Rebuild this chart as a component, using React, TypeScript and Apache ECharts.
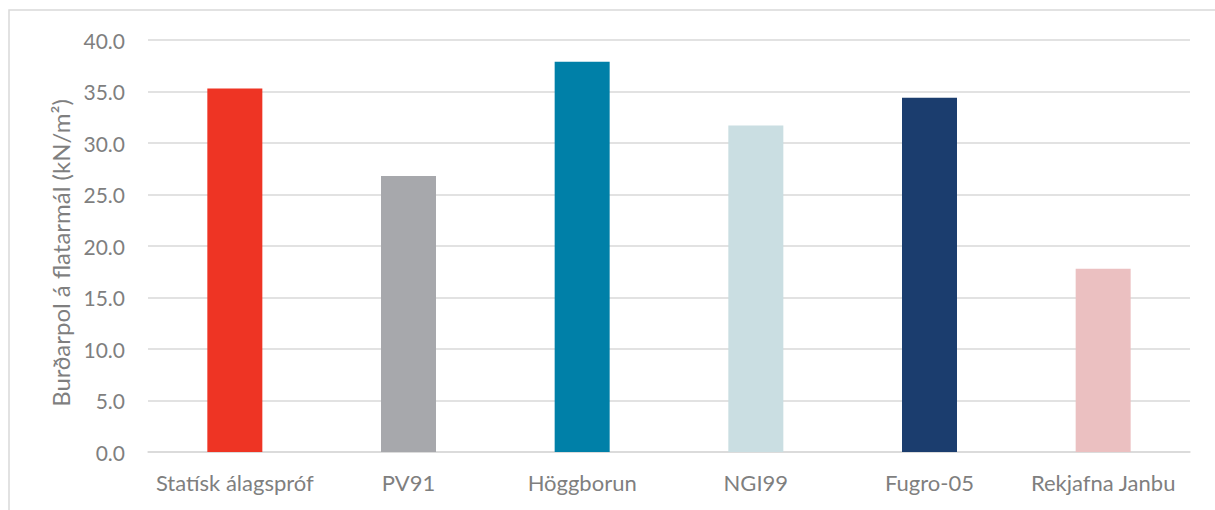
import React, { useEffect, useRef } from "react";
import * as echarts from "echarts";

const categories = ["Statísk álagspróf", "PV91", "Höggborun", "NGI99", "Fugro-05", "Rekjafna Janbu"];
const values = [35.3, 26.8, 37.9, 31.7, 34.4, 17.8];
const barColors = ["#EE3424", "#A7A8AC", "#0080A8", "#CADEE2", "#1B3D6E", "#EBC0C1"];
const yTitle = "Burðarpol á flatarmál (kN/m²)";

const FONT = "Lato, 'Open Sans', sans-serif";
const GRAY = "#7f7f7f";

export default function App() {
  const ref = useRef<HTMLDivElement>(null);

  useEffect(() => {
    if (!ref.current) return;
    const chart = echarts.init(ref.current, undefined, { renderer: "svg" });
    chart.setOption({
      animation: false,
      backgroundColor: "#ffffff",
      graphic: [
        {
          type: "rect",
          shape: { x: 9, y: 10, width: 1220, height: 520 },
          style: { fill: "none", stroke: "#d9d9d9", lineWidth: 1.5 },
          silent: true,
        },
        {
          type: "text",
          x: 60,
          y: 253,
          rotation: Math.PI / 2,
          style: {
            text: yTitle,
            fill: GRAY,
            font: `24px ${FONT}`,
            align: "center",
            verticalAlign: "middle",
          },
          silent: true,
        },
      ],
      grid: { left: 148, right: 25, top: 40, bottom: 58 },
      xAxis: {
        type: "category",
        data: categories,
        axisLine: { show: true, lineStyle: { color: "#d9d9d9", width: 1.5 } },
        axisTick: { show: false },
        axisLabel: { color: GRAY, fontFamily: FONT, fontSize: 22, margin: 19, interval: 0 },
      },
      yAxis: {
        type: "value",
        min: 0,
        max: 40,
        interval: 5,
        axisLine: { show: false },
        axisTick: { show: false },
        splitLine: { lineStyle: { color: "#d9d9d9", width: 1.5 } },
        axisLabel: {
          color: GRAY,
          fontFamily: FONT,
          fontSize: 21,
          margin: 23,
          formatter: (v: number) => v.toFixed(1),
        },
      },
      series: [
        {
          type: "bar",
          barWidth: 55,
          data: values.map((v, i) => ({ value: v, itemStyle: { color: barColors[i] } })),
        },
      ],
    });
    return () => chart.dispose();
  }, []);

  return (
    <div
      ref={ref}
      style={{ position: "absolute", left: 0, top: 0, width: 1215, height: 510 }}
    />
  );
}
